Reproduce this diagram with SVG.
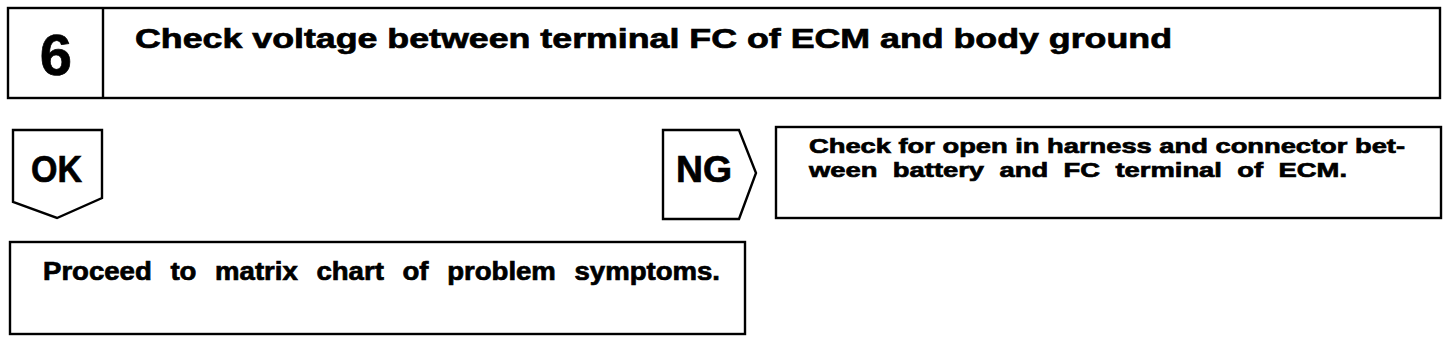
<svg xmlns="http://www.w3.org/2000/svg" width="1456" height="342" viewBox="0 0 1456 342">
<style>
.box{fill:#fff;stroke:#000;stroke-width:2.4;stroke-linejoin:miter}
.t{font-family:"Liberation Sans",Arial,sans-serif;font-weight:bold;fill:#000;stroke:#000;stroke-width:0.7}
</style>
<rect width="1456" height="342" fill="#fff"/>
<g id="step6">
<rect class="box" x="8" y="8" width="1432" height="90"/>
<line x1="103" y1="8" x2="103" y2="98" stroke="#000" stroke-width="2.4"/>
<text class="t" x="56" y="75" font-size="58" text-anchor="middle">6</text>
<text class="t" x="135" y="48" font-size="28" textLength="1037" lengthAdjust="spacingAndGlyphs">Check voltage between terminal FC of ECM and body ground</text>
</g>
<g id="ok">
<polygon class="box" points="13,130 102,130 102,198 57,218 13,202"/>
<text class="t" x="31" y="182" font-size="37" textLength="51" lengthAdjust="spacingAndGlyphs">OK</text>
</g>
<g id="ng">
<polygon class="box" points="663,130 739,130 756,173 739,219 663,219"/>
<text class="t" x="676" y="182" font-size="36" textLength="56" lengthAdjust="spacingAndGlyphs">NG</text>
</g>
<g id="ng-action">
<rect class="box" x="776" y="127" width="665" height="91"/>
<text class="t" x="809" y="153" font-size="21" textLength="596" lengthAdjust="spacingAndGlyphs">Check for open in harness and connector bet-</text>
<text class="t" x="809" y="177" font-size="21" word-spacing="6" textLength="538" lengthAdjust="spacingAndGlyphs">ween battery and FC terminal of ECM.</text>
</g>
<g id="ok-action">
<rect class="box" x="10" y="242" width="735" height="92"/>
<text class="t" x="43" y="280" font-size="25" word-spacing="10" textLength="677" lengthAdjust="spacingAndGlyphs">Proceed to matrix chart of problem symptoms.</text>
</g>
<g id="connectors"></g>
</svg>
